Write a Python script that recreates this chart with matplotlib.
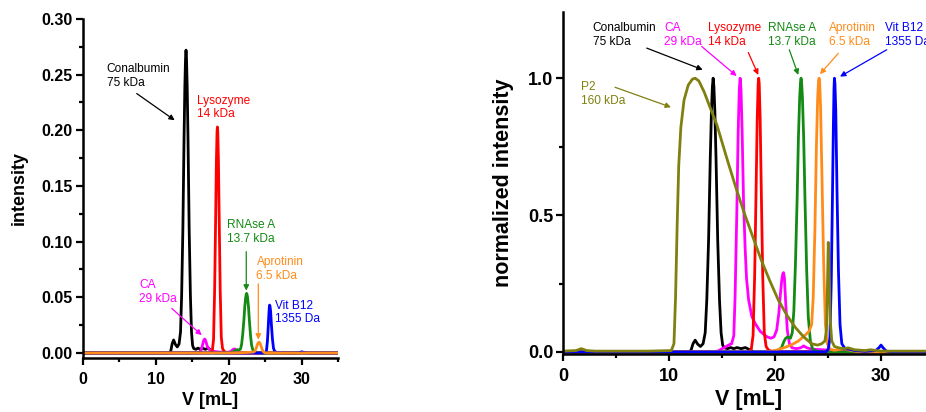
import matplotlib
matplotlib.use('Agg')
import matplotlib.pyplot as plt
from matplotlib.ticker import MultipleLocator, FormatStrFormatter

plt.rcParams['font.family'] = ['Liberation Sans', 'DejaVu Sans']

# normalized elution profiles
v_conalbumin = [0, 5, 10, 11.8, 12.05, 12.25, 12.45, 12.7, 12.95, 13.2, 13.4, 13.55, 13.72, 13.88, 13.99,
                14.08, 14.15, 14.22, 14.31, 14.42, 14.58, 14.75, 14.9, 15.05, 15.2, 15.5, 15.8, 16.1, 16.4,
                16.8, 17.2, 17.6, 18.0, 20, 25, 30, 35]
n_conalbumin = [0, 0, 0, 0, 0.005, 0.03, 0.043, 0.028, 0.02, 0.03, 0.07, 0.19, 0.41, 0.71, 0.88,
                0.97, 1.0, 0.97, 0.88, 0.71, 0.41, 0.19, 0.07, 0.025, 0.015, 0.012, 0.016, 0.012, 0.016,
                0.012, 0.016, 0.008, 0, 0, 0, 0, 0]

v_ca = [0, 10, 14.3, 14.7, 15.0, 15.3, 15.6, 15.9, 16.1, 16.22, 16.38, 16.51, 16.62, 16.7, 16.78, 16.89,
        17.02, 17.17, 17.3, 17.5, 17.8, 18.1, 18.6, 19.2, 19.6, 19.9, 20.15, 20.35, 20.5, 20.62, 20.72,
        20.8, 20.88, 21.0, 21.15, 21.35, 21.6, 22.0, 22.4, 22.7, 23.0, 23.5, 24.5, 26, 30, 35]
n_ca = [0, 0, 0, 0.005, 0.012, 0.018, 0.025, 0.03, 0.06, 0.2, 0.5, 0.8, 0.96, 1.0, 0.96, 0.8,
        0.55, 0.38, 0.27, 0.19, 0.13, 0.105, 0.075, 0.056, 0.05, 0.055, 0.08, 0.14, 0.21, 0.26, 0.285,
        0.29, 0.27, 0.18, 0.08, 0.03, 0.015, 0.012, 0.015, 0.022, 0.015, 0.01, 0.008, 0.005, 0, 0]

v_lysozyme = [0, 10, 17.5, 17.75, 17.92, 18.07, 18.2, 18.31, 18.4, 18.45, 18.5, 18.59, 18.7, 18.83,
              18.98, 19.15, 19.35, 19.6, 20, 25, 35]
n_lysozyme = [0, 0, 0, 0.01, 0.06, 0.28, 0.58, 0.85, 0.98, 1.0, 0.98, 0.85, 0.58, 0.28,
              0.07, 0.02, 0.008, 0.003, 0, 0, 0]

v_rnase = [0, 10, 19.5, 20.2, 20.6, 20.85, 21.0, 21.2, 21.45, 21.62, 21.77, 21.92, 22.08, 22.2, 22.32,
           22.4, 22.45, 22.5, 22.58, 22.7, 22.82, 22.98, 23.13, 23.33, 23.55, 23.9, 24.5, 26, 35]
n_rnase = [0, 0, 0, 0.005, 0.015, 0.04, 0.05, 0.055, 0.05, 0.07, 0.15, 0.32, 0.56, 0.78, 0.93,
           0.985, 1.0, 0.985, 0.93, 0.78, 0.56, 0.3, 0.13, 0.04, 0.01, 0.003, 0, 0, 0]

v_aprotinin = [0, 10, 19.0, 20.0, 20.8, 21.5, 22.2, 22.8, 23.2, 23.45, 23.6, 23.76, 23.9, 24.02,
               24.1, 24.15, 24.2, 24.29, 24.42, 24.58, 24.75, 24.93, 25.2, 25.6, 26.5, 27.2, 28, 35]
n_aprotinin = [0, 0, 0, 0.005, 0.015, 0.025, 0.04, 0.06, 0.075, 0.1, 0.2, 0.45, 0.75, 0.93,
               0.99, 1.0, 0.99, 0.9, 0.65, 0.33, 0.1, 0.03, 0.01, 0.006, 0.012, 0.005, 0, 0]

v_vitb12 = [0, 10, 20, 24.8, 25.02, 25.17, 25.3, 25.41, 25.5, 25.56, 25.6, 25.65, 25.73, 25.84,
            25.98, 26.13, 26.3, 26.6, 27.0, 27.5, 28.5, 29.5, 29.8, 30.0, 30.2, 30.5, 31, 35]
n_vitb12 = [0, 0, 0, 0, 0.01, 0.05, 0.25, 0.55, 0.82, 0.96, 1.0, 0.98, 0.88, 0.6,
            0.3, 0.1, 0.03, 0.012, 0.01, 0.005, 0.002, 0.005, 0.015, 0.025, 0.015, 0.003, 0, 0]

v_p2 = [0, 1.2, 1.7, 2.2, 3, 8, 10.2, 10.45, 10.6, 10.75, 10.9, 11.1, 11.4, 11.8, 12.2, 12.45, 12.8,
        13.3, 13.95, 14.5, 15.5, 16.3, 17.1, 17.9, 18.7, 19.5, 20.3, 21.1, 21.9, 22.7, 23.45, 24.0,
        24.4, 24.7, 24.85, 24.95, 25.02, 25.1, 25.2, 25.35, 25.6, 26.0, 26.5, 26.9, 27.5, 28.5, 29,
        30, 35]
n_p2 = [0.003, 0.005, 0.012, 0.005, 0.003, 0.003, 0.005, 0.03, 0.2, 0.46, 0.68, 0.82, 0.92, 0.975,
        0.997, 1.0, 0.99, 0.95, 0.884, 0.83, 0.70, 0.60, 0.506, 0.42, 0.335, 0.26, 0.19, 0.135, 0.09,
        0.055, 0.03, 0.025, 0.03, 0.04, 0.08, 0.25, 0.40, 0.32, 0.12, 0.04, 0.02, 0.015, 0.012, 0.015,
        0.008, 0.005, 0.008, 0.003, 0.003]

# peak intensities for the left panel (raw intensity)
peak_heights = {'Conalbumin': 0.272, 'CA': 0.0125, 'Lysozyme': 0.203,
                'RNAse A': 0.0535, 'Aprotinin': 0.0096, 'Vit B12': 0.043}

standards = [
    ('Conalbumin', '75 kDa', 'black', v_conalbumin, n_conalbumin),
    ('CA', '29 kDa', '#ff00ff', v_ca, n_ca),
    ('Lysozyme', '14 kDa', '#ff0000', v_lysozyme, n_lysozyme),
    ('RNAse A', '13.7 kDa', '#138a13', v_rnase, n_rnase),
    ('Vit B12', '1355 Da', '#0000ff', v_vitb12, n_vitb12),
    ('Aprotinin', '6.5 kDa', '#ff8c1a', v_aprotinin, n_aprotinin),
]
p2_color = '#808010'
lw = 2.0

fig = plt.figure(figsize=(9.26, 4.12), dpi=100)
ax1 = fig.add_axes([0.0893, 0.1311, 0.276, 0.8229])
ax2 = fig.add_axes([0.6083, 0.1398, 0.4003, 0.8318])

# left panel: raw intensity
for name, mw, col, v, n in standards:
    h = peak_heights[name]
    ax1.plot(v, [h * val for val in n], color=col, lw=lw)

# right panel: normalized
for name, mw, col, v, n in standards:
    if name == 'Vit B12':
        continue
    ax2.plot(v, n, color=col, lw=lw)
ax2.plot(v_vitb12, n_vitb12, color='#0000ff', lw=lw)
ax2.plot(v_p2, n_p2, color=p2_color, lw=lw)

for ax in (ax1, ax2):
    ax.spines['top'].set_visible(False)
    ax.spines['right'].set_visible(False)
    ax.spines['left'].set_linewidth(1.8)
    ax.spines['bottom'].set_linewidth(1.8)
    ax.set_xlim(0, 35)
    ax.xaxis.set_major_locator(MultipleLocator(10))
    ax.xaxis.set_minor_locator(MultipleLocator(5))
    ax.tick_params(which='major', direction='out', length=5, width=1.6, pad=3)
    ax.tick_params(which='minor', direction='out', length=3, width=1.6)
    ax.set_facecolor('none')

ax1.set_ylim(-0.0045, 0.30)
ax1.yaxis.set_major_locator(MultipleLocator(0.05))
ax1.yaxis.set_minor_locator(MultipleLocator(0.025))
ax1.yaxis.set_major_formatter(FormatStrFormatter('%.2f'))
for lab in ax1.get_xticklabels() + ax1.get_yticklabels():
    lab.set_fontweight('bold')
    lab.set_fontsize(11.5)
ax1.tick_params(axis='x', pad=5)
ax1.tick_params(axis='y', pad=2)
ax1.set_xlabel('V [mL]', fontsize=13, fontweight='bold', labelpad=4)
ax1.set_ylabel('intensity', fontsize=13, fontweight='bold', labelpad=10)

ax2.set_ylim(-0.009, 1.243)
ax2.yaxis.set_major_locator(MultipleLocator(0.5))
ax2.yaxis.set_minor_locator(MultipleLocator(0.25))
ax2.yaxis.set_major_formatter(FormatStrFormatter('%.1f'))
for lab in ax2.get_xticklabels() + ax2.get_yticklabels():
    lab.set_fontweight('bold')
    lab.set_fontsize(13)
ax2.tick_params(axis='x', pad=5)
ax2.tick_params(axis='y', pad=2)
ax2.set_xlabel('V [mL]', fontsize=15.5, fontweight='bold', labelpad=3)
ax2.set_ylabel('normalized intensity', fontsize=15.5, fontweight='bold', labelpad=10)

fs = 8.6
arrow = lambda c: dict(arrowstyle='-|>', color=c, lw=0.9, mutation_scale=8, shrinkA=0, shrinkB=0)

# left panel labels
ax1.text(3.3, 0.26, 'Conalbumin\n75 kDa', color='black', fontsize=fs, va='top')
ax1.annotate('', xy=(12.6, 0.209), xytext=(7.4, 0.233), arrowprops=arrow('black'))
ax1.text(15.7, 0.232, 'Lysozyme\n14 kDa', color='#ff0000', fontsize=fs, va='top')
ax1.text(19.8, 0.12, 'RNAse A\n13.7 kDa', color='#138a13', fontsize=fs, va='top')
ax1.annotate('', xy=(22.4, 0.056), xytext=(22.4, 0.091), arrowprops=arrow('#138a13'))
ax1.text(23.8, 0.087, 'Aprotinin\n6.5 kDa', color='#ff8c1a', fontsize=fs, va='top')
ax1.annotate('', xy=(24.05, 0.012), xytext=(24.05, 0.062), arrowprops=arrow('#ff8c1a'))
ax1.text(26.4, 0.048, 'Vit B12\n1355 Da', color='#0000ff', fontsize=fs, va='top')
ax1.text(7.7, 0.066, 'CA\n29 kDa', color='#ff00ff', fontsize=fs, va='top')
ax1.annotate('', xy=(16.3, 0.016), xytext=(12.2, 0.040), arrowprops=arrow('#ff00ff'))

# right panel labels
top_y = 1.205
ax2.text(2.78, top_y, 'Conalbumin\n75 kDa', color='black', fontsize=fs, va='top')
ax2.text(9.54, top_y, 'CA\n29 kDa', color='#ff00ff', fontsize=fs, va='top')
ax2.text(13.69, top_y, 'Lysozyme\n14 kDa', color='#ff0000', fontsize=fs, va='top')
ax2.text(19.36, top_y, 'RNAse A\n13.7 kDa', color='#138a13', fontsize=fs, va='top')
ax2.text(25.12, top_y, 'Aprotinin\n6.5 kDa', color='#ff8c1a', fontsize=fs, va='top')
ax2.text(30.38, top_y, 'Vit B12\n1355 Da', color='#0000ff', fontsize=fs, va='top')
ax2.text(1.67, 0.99, 'P2\n160 kDa', color=p2_color, fontsize=fs, va='top')
ax2.annotate('', xy=(13.16, 1.031), xytext=(7.88, 1.110), arrowprops=arrow('black'))
ax2.annotate('', xy=(16.37, 1.008), xytext=(13.07, 1.116), arrowprops=arrow('#ff00ff'))
ax2.annotate('', xy=(18.41, 1.012), xytext=(17.47, 1.094), arrowprops=arrow('#ff0000'))
ax2.annotate('', xy=(22.19, 1.012), xytext=(21.34, 1.104), arrowprops=arrow('#138a13'))
ax2.annotate('', xy=(24.24, 1.015), xytext=(25.97, 1.091), arrowprops=arrow('#ff8c1a'))
ax2.annotate('', xy=(26.13, 1.006), xytext=(30.54, 1.104), arrowprops=arrow('#0000ff'))
ax2.annotate('', xy=(10.17, 0.894), xytext=(4.88, 0.967), arrowprops=arrow(p2_color))

fig.savefig('out.png', dpi=100)
